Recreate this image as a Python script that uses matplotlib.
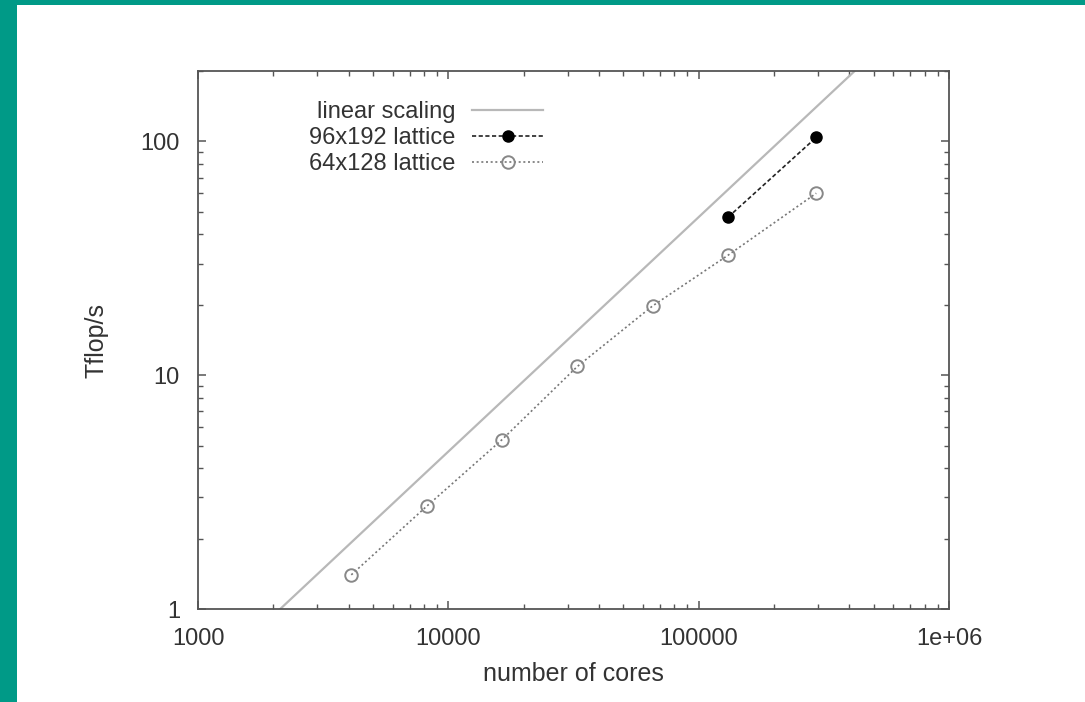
import matplotlib
matplotlib.use("Agg")
import matplotlib.pyplot as plt
from matplotlib.patches import Rectangle
from matplotlib.ticker import LogLocator, FixedLocator, FixedFormatter, NullFormatter

# ── Data ──────────────────────────────────────────────────────────
cores_64 = [4096, 8192, 16384, 32768, 65536, 131072, 294912]
tflops_64 = [1.40, 2.75, 5.3, 10.9, 19.8, 32.6, 60.0]

cores_96 = [131072, 294912]
tflops_96 = [47.4, 104.0]

# ideal line, end points in (cores, Tflop/s)
linear_cores = [2130, 420000]
linear_tflops = [1.0, 200.0]

x_ticks = [1000, 10000, 100000, 1000000]
x_labels = ["1000", "10000", "100000", "1e+06"]
y_ticks = [1, 10, 100]
y_labels = ["1", "10", "100"]

plt.rcParams["font.family"] = ["Liberation Sans", "DejaVu Sans"]

fig = plt.figure(figsize=(10.85, 7.02), dpi=100)
fig.patch.set_facecolor("#009a87")
fig.patches.append(Rectangle((17 / 1085, 0), 1, (702 - 5) / 702,
                             transform=fig.transFigure, facecolor="white",
                             edgecolor="none", zorder=-1))

ax = fig.add_axes([198 / 1085, (702 - 609) / 702, 751 / 1085, 538 / 702])
ax.set_zorder(2)
ax.set_xscale("log")
ax.set_yscale("log")
ax.set_xlim(1000, 1e6)
ax.set_ylim(1, 200)

ax.plot(linear_cores, linear_tflops, color="#b8b8b8", lw=1.6,
        label="linear scaling")
ax.plot(cores_96, tflops_96, color="#222222", ls=(0, (2.5, 1.5)), lw=1.2,
        marker="o", ms=8, mfc="black", mec="black", label="96x192 lattice")
ax.plot(cores_64, tflops_64, color="#777777", ls=(0, (1.2, 1.6)), lw=1.2,
        marker="o", ms=9, mfc="none", mec="#888888", mew=1.4,
        label="64x128 lattice")

# gnuplot-like frame and ticks
for side in ax.spines.values():
    side.set_color("#555555")
    side.set_linewidth(1.3)
ax.tick_params(which="both", direction="in", top=True, right=True,
               colors="#555555", labelcolor="#333333", labelsize=17)
ax.tick_params(which="major", length=6, width=1.1)
ax.tick_params(axis="x", which="major", pad=14)
ax.tick_params(axis="y", which="major", pad=13)
ax.tick_params(which="minor", length=3.5, width=1.0)
ax.xaxis.set_major_locator(FixedLocator(x_ticks))
ax.xaxis.set_major_formatter(FixedFormatter(x_labels))
ax.yaxis.set_major_locator(FixedLocator(y_ticks))
ax.yaxis.set_major_formatter(FixedFormatter(y_labels))
ax.xaxis.set_minor_locator(LogLocator(base=10, subs=range(2, 10)))
ax.yaxis.set_minor_locator(LogLocator(base=10, subs=range(2, 10)))
ax.xaxis.set_minor_formatter(NullFormatter())
ax.yaxis.set_minor_formatter(NullFormatter())

ax.set_xlabel("number of cores", fontsize=18, color="#333333", labelpad=8)
ax.set_ylabel("Tflop/s", fontsize=18, color="#333333", labelpad=23)

leg = ax.legend(loc="upper left", bbox_to_anchor=(0.12, 0.983), frameon=False,
                fontsize=17, markerfirst=False, handlelength=3.0,
                handletextpad=0.7, labelspacing=0.17, alignment="right")
for t in leg.get_texts():
    t.set_ha("right")
    t.set_color("#333333")

fig.savefig("out.png", dpi=100, facecolor=fig.get_facecolor())
